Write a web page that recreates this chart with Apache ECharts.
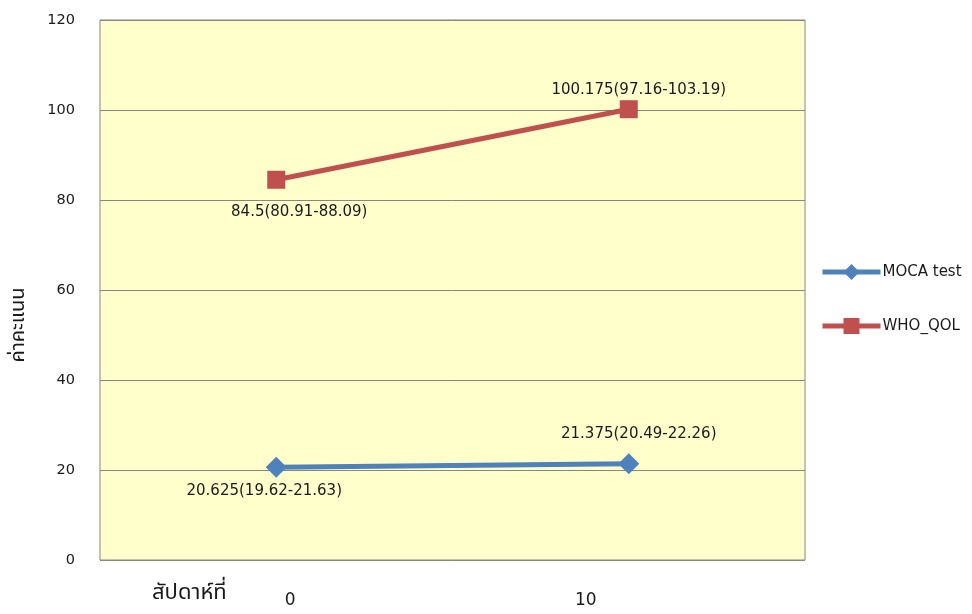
<!DOCTYPE html>
<html>
<head>
<meta charset="utf-8">
<script src="https://cdn.jsdelivr.net/npm/echarts@6/dist/echarts.min.js"></script>
<style>
  html, body { margin: 0; padding: 0; background: #ffffff; }
  #chart { width: 972px; height: 614px; }
</style>
</head>
<body>
<div id="chart"></div>
<script>
// Weeks of follow-up
const weeks = ['0', '10'];

// Mean scores per series
const mocaMean = [20.625, 21.375];
const whoMean = [84.5, 100.175];

// Confidence intervals (low, high)
const mocaLow = [19.62, 20.49];
const mocaHigh = [21.63, 22.26];
const whoLow = [80.91, 97.16];
const whoHigh = [88.09, 103.19];

// Value axis ticks
const yMin = 0;
const yMax = 120;
const yStep = 20;

const seriesNames = ['MOCA test', 'WHO_QOL'];
const xTitle = 'สัปดาห์ที่';
const yTitle = 'ค่าคะแนน';

const labelFont = '"DejaVu Sans", "Noto Sans", sans-serif';
const thaiFont = '"Noto Sans Thai", "Loma", "Garuda", sans-serif';

function pointData(means, lows, highs, offsets) {
  return means.map((v, i) => ({
    value: v,
    label: {
      show: true,
      position: 'inside',
      offset: offsets[i],
      formatter: v + '(' + lows[i] + '-' + highs[i] + ')',
      color: '#1a1a1a',
      fontFamily: labelFont,
      fontSize: 15
    }
  }));
}

const chart = echarts.init(document.getElementById('chart'));
chart.setOption({
  animation: false,
  backgroundColor: '#ffffff',
  grid: {
    left: 100, top: 20, width: 705, height: 540,
    show: true,
    backgroundColor: '#FFFFCC',
    borderColor: '#868686',
    borderWidth: 1
  },
  legend: {
    orient: 'vertical',
    left: 820,
    top: 264,
    padding: 0,
    itemWidth: 58,
    itemHeight: 20,
    itemGap: 38,
    lineStyle: { width: 5 },
    textStyle: { fontFamily: labelFont, fontSize: 15, color: '#1a1a1a', padding: [0, 0, 0, -3] },
    data: seriesNames
  },
  xAxis: {
    type: 'category',
    data: weeks,
    boundaryGap: true,
    axisLine: { show: false },
    axisTick: { show: false },
    splitLine: { show: false },
    axisLabel: {
      margin: 32,
      formatter: function (v, i) { return i === 0 ? '{a|' + v + '}' : '{b|' + v + '}'; },
      rich: {
        a: { fontFamily: labelFont, fontSize: 17, color: '#1a1a1a', padding: [0, 0, 0, 28] },
        b: { fontFamily: labelFont, fontSize: 17, color: '#1a1a1a', padding: [0, 86, 0, 0] }
      }
    }
  },
  yAxis: {
    type: 'value',
    min: yMin,
    max: yMax,
    interval: yStep,
    axisLine: { show: false },
    axisTick: { show: false },
    axisLabel: { margin: 25, fontFamily: labelFont, fontSize: 14.5, color: '#1a1a1a' },
    splitLine: { show: true, lineStyle: { color: '#868686', width: 1 } }
  },
  graphic: [
    {
      type: 'text',
      left: 152, top: 584,
      style: { text: xTitle, fontSize: 22, fill: '#1a1a1a', fontFamily: thaiFont }
    },
    {
      type: 'text',
      x: 20, y: 325,
      rotation: Math.PI / 2,
      style: { text: yTitle, fontSize: 20, fill: '#1a1a1a', align: 'center', verticalAlign: 'middle', fontFamily: thaiFont }
    }
  ],
  series: [
    {
      name: seriesNames[0],
      type: 'line',
      data: pointData(mocaMean, mocaLow, mocaHigh, [[-12, 24], [10, -30]]),
      symbol: 'diamond',
      symbolSize: 21,
      color: '#4F81BD',
      lineStyle: { width: 5, color: '#4F81BD' },
      itemStyle: { color: '#4F81BD' }
    },
    {
      name: seriesNames[1],
      type: 'line',
      data: pointData(whoMean, whoLow, whoHigh, [[23, 32], [10, -19]]),
      symbol: 'rect',
      symbolSize: 18,
      color: '#C0504D',
      lineStyle: { width: 5, color: '#C0504D' },
      itemStyle: { color: '#C0504D' }
    }
  ]
});
</script>
</body>
</html>
